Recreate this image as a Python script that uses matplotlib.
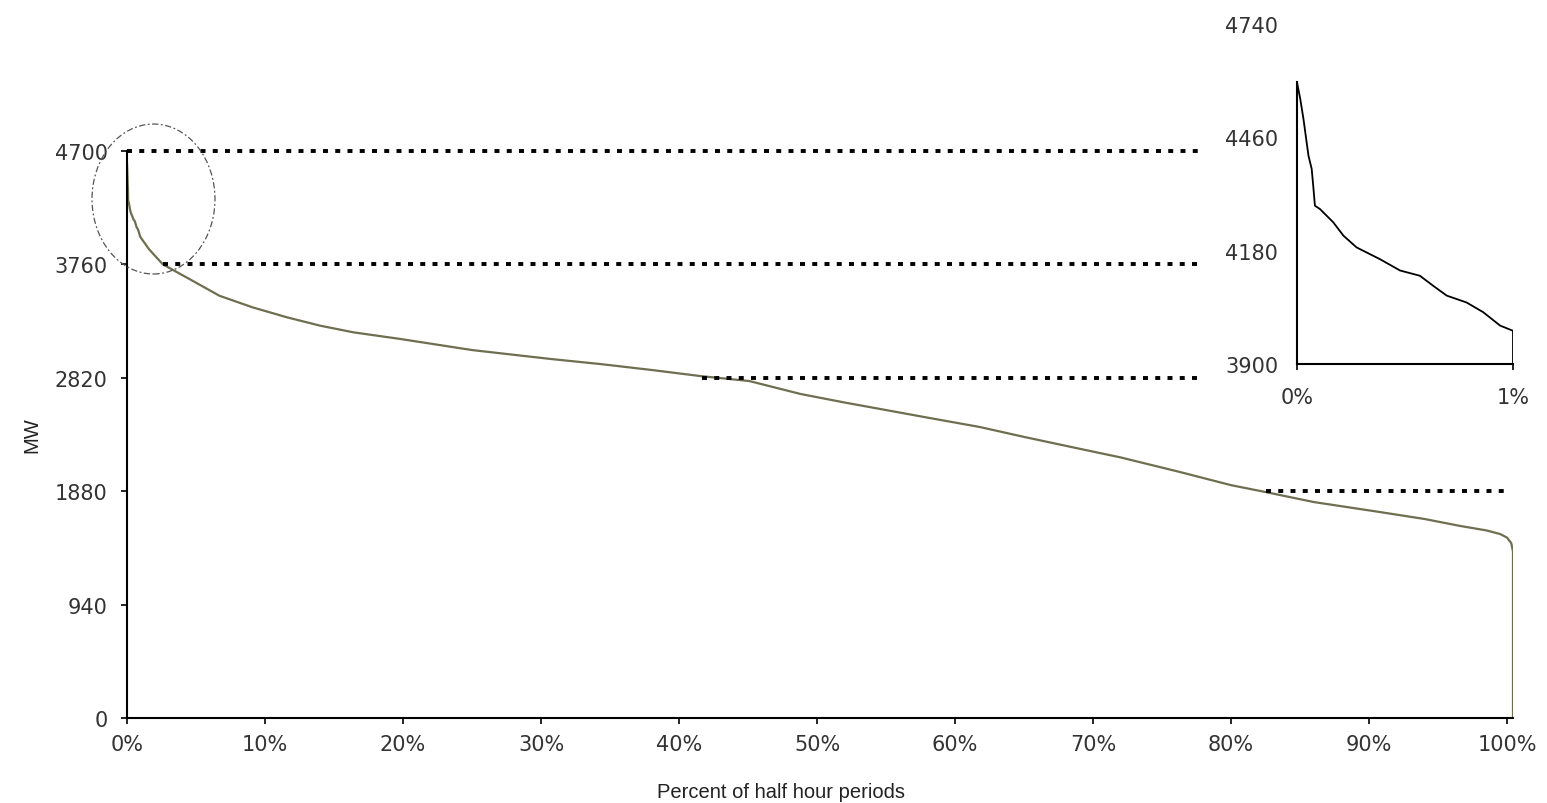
import matplotlib.pyplot as plt
from matplotlib.patches import Ellipse

# ------------------------------------------------------------
# DATA
# ------------------------------------------------------------

# first 1% of half-hour periods (detail panel)
zoom_pct = [0, 0.015, 0.03, 0.053, 0.068, 0.075, 0.083, 0.106, 0.168, 0.215,
            0.276, 0.384, 0.477, 0.569, 0.631, 0.693, 0.785, 0.862, 0.94, 1.0]
zoom_mw = [4596, 4555, 4505, 4415, 4382, 4341, 4291, 4283, 4250, 4217,
           4188, 4159, 4131, 4118, 4093, 4069, 4052, 4028, 3995, 3982]

# rest of the load duration curve
tail_pct = [1.6, 2.6, 4.3, 6.7, 9.1, 11.6, 14, 16.4, 19.8, 25, 30.7, 34.3,
            38, 41.5, 45.1, 48.8, 52, 54.6, 58, 61.8, 65, 69.1, 72, 76.3,
            80, 82.5, 86, 90.8, 94, 96.6, 98.5, 99.5, 100.0, 100.3, 100.43, 100.43]
tail_mw = [3885, 3760, 3653, 3500, 3404, 3321, 3252, 3197, 3142, 3050, 2976, 2934,
           2885, 2835, 2793, 2686, 2615, 2561, 2490, 2412, 2330, 2230, 2160, 2039,
           1930, 1873, 1790, 1707, 1650, 1592, 1555, 1525, 1495, 1450, 1380, 0]

# dotted reference levels and where they run
ref_levels = [4700, 3760, 2820, 1880]
ref_start = [0, 2.6, 41.7, 82.5]
ref_end = [77.6, 77.6, 77.6, 100.2]

y_ticks = [0, 940, 1880, 2820, 3760, 4700]
x_ticks = [0, 10, 20, 30, 40, 50, 60, 70, 80, 90, 100]
zoom_y_ticks = [3900, 4180, 4460, 4740]

# ------------------------------------------------------------
# FIGURE
# ------------------------------------------------------------

W, H = 1547, 804
fig = plt.figure(figsize=(W / 100, H / 100), dpi=100)

LABEL_CLR = '#333333'
CURVE_CLR = '#6e6e50'

# main axes: 0%..100.43% spans px 127..1513, 0..4700 spans px 719..152
ax = fig.add_axes([127 / W, 1 - 719 / H, (1513 - 127) / W, (719 - 152) / H])
pct = zoom_pct + tail_pct
mw = zoom_mw + tail_mw
ax.plot(pct, mw, color=CURVE_CLR, lw=1.6, zorder=2)

for lvl, x0, x1 in zip(ref_levels, ref_start, ref_end):
    ax.plot([x0, x1], [lvl, lvl], color='black', lw=2.8,
            linestyle=(0, (1.28, 1.87)), dash_capstyle='butt',
            clip_on=False, zorder=3)

ax.add_patch(Ellipse((1.92, 4302), 8.91, 1243, fill=False, edgecolor='#555555',
                     lw=0.9, linestyle=(0, (5, 2, 1.5, 2)), clip_on=False, zorder=4))

ax.set_xlim(0, 100.43)
ax.set_ylim(0, 4700)
ax.set_xticks(x_ticks)
ax.set_xticklabels([f"{v}%" for v in x_ticks])
ax.set_yticks(y_ticks)
ax.set_yticklabels([str(v) for v in y_ticks])
for s in ['top', 'right']:
    ax.spines[s].set_visible(False)
for s in ['left', 'bottom']:
    ax.spines[s].set_linewidth(1.5)
ax.tick_params(axis='both', direction='out', length=4.5, width=1.2,
               labelsize=15, labelcolor=LABEL_CLR)
ax.tick_params(axis='x', pad=7)
ax.tick_params(axis='y', pad=9.5)

fig.text(781 / W, 1 - 793 / H, "Percent of half hour periods", ha='center', va='center',
         fontsize=14.5, family='Liberation Sans', color='#222222')
fig.text(32 / W, 1 - 435 / H, "MW", ha='center', va='center', rotation=90,
         fontsize=14.5, family='Liberation Sans', color='#222222')

# detail panel for the top 1%
ins = fig.add_axes([1297 / W, 1 - 365 / H, (1513 - 1297) / W, (365 - 25) / H])
ins.plot(zoom_pct + [1.0], zoom_mw + [3900], color='black', lw=1.3)
ins.set_xlim(0, 1)
ins.set_ylim(3900, 4740)
ins.set_xticks([0, 1])
ins.set_xticklabels(["0%", "1%"])
ins.set_yticks(zoom_y_ticks)
ins.set_yticklabels([str(v) for v in zoom_y_ticks])
for s in ['top', 'right']:
    ins.spines[s].set_visible(False)
for s in ['left', 'bottom']:
    ins.spines[s].set_linewidth(1.5)
ins.spines['left'].set_bounds(3900, max(zoom_mw))
ins.patch.set_alpha(0)
ins.tick_params(axis='y', length=0, pad=13.5, labelsize=15, labelcolor=LABEL_CLR)
ins.tick_params(axis='x', direction='out', length=4.5, width=1.2, pad=12,
                labelsize=15, labelcolor=LABEL_CLR)

fig.savefig("out.png", dpi=100)
